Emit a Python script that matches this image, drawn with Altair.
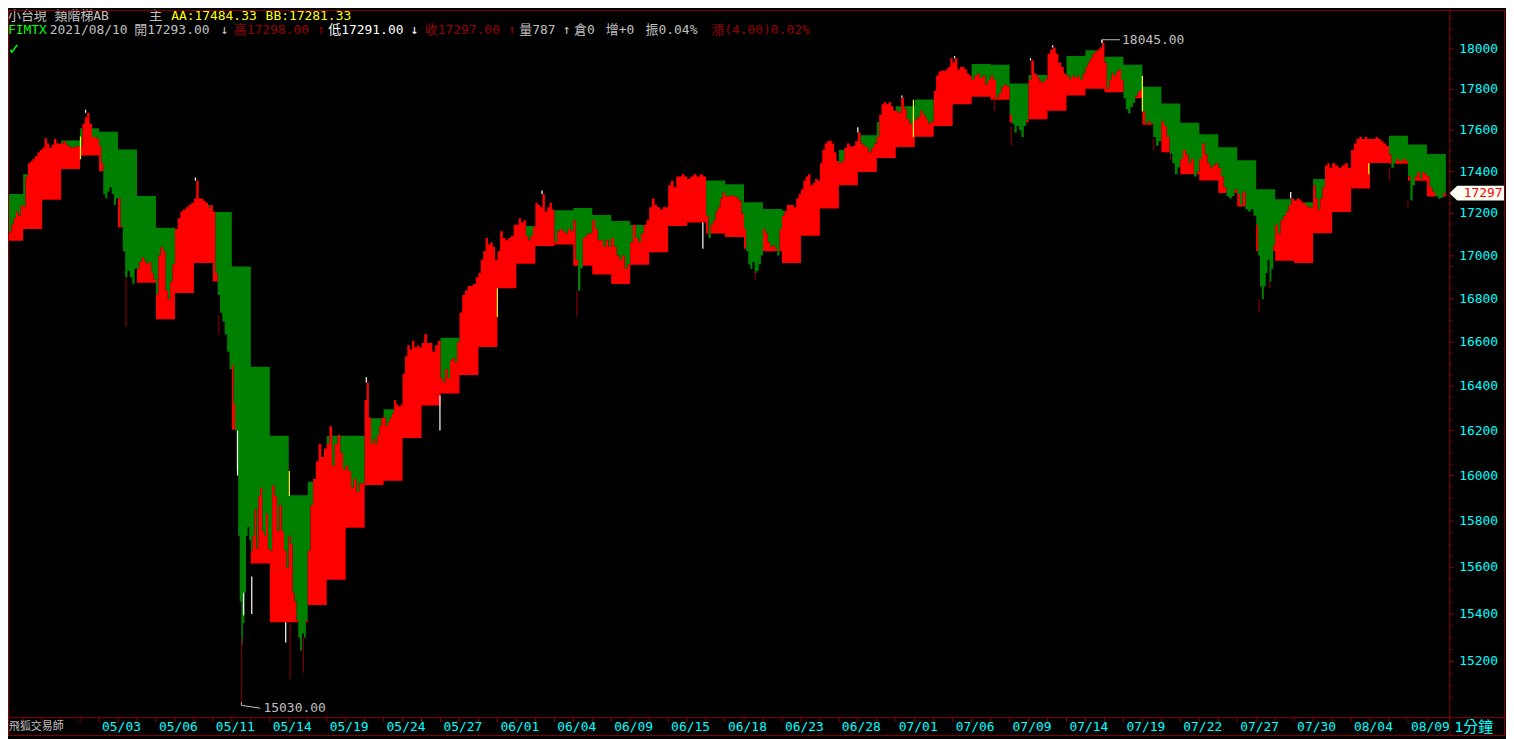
import altair as alt
import pandas as pd

# ---------------- data ----------------
DATE_LABELS = ["05/03", "05/06", "05/11", "05/14", "05/19", "05/24", "05/27", "06/01",
               "06/04", "06/09", "06/15", "06/18", "06/23", "06/28", "07/01", "07/06",
               "07/09", "07/14", "07/19", "07/22", "07/27", "07/30", "08/04", "08/09"]
LABEL_DAY = [5, 8, 11, 14, 17, 20, 23, 26, 29, 32, 35, 38, 41, 44, 47, 50, 53, 56, 59, 62,
             65, 68, 71, 74]
Y_TICKS = [15200, 15400, 15600, 15800, 16000, 16200, 16400, 16600, 16800, 17000, 17200,
           17400, 17600, 17800, 18000]

# upper step level (AA) and lower step level (BB) per trading day
AA = [17293, 17388, 17440, 17550, 17610, 17593, 17507, 17283, 17132, 17100,
      17241, 17207, 16950, 16488, 16177, 15913, 15973, 16177, 16177, 16255,
      16296, 16380, 16540, 16620, 16650, 16880, 17000, 17141, 17180, 17216,
      17226, 17193, 17164, 17145, 17180, 17300, 17340, 17358, 17339, 17254,
      17222, 17214, 17250, 17380, 17504, 17576, 17640, 17717, 17750, 17700,
      17850, 17925, 17921, 17828, 17870, 17870, 17964, 17993, 17960, 17921,
      17813, 17730, 17636, 17581, 17517, 17455, 17316, 17268, 17254, 17365,
      17380, 17450, 17500, 17573, 17531, 17484.33]
BB = [17071, 17127, 17266, 17413, 17478, 17402, 17134, 16874, 16705, 16827,
      16967, 16880, 16204, 15616, 15365, 15365, 15439, 15546, 15771, 15958,
      15977, 16167, 16312, 16367, 16450, 16578, 16849, 16963, 17046, 17054,
      16954, 16913, 16869, 16959, 17017, 17141, 17158, 17106, 17089, 17033,
      17022, 16967, 17095, 17224, 17335, 17398, 17465, 17519, 17568, 17621,
      17726, 17763, 17748, 17638, 17653, 17695, 17770, 17802, 17785, 17756,
      17627, 17493, 17388, 17358, 17298, 17233, 17023, 16977, 16967, 17107,
      17207, 17319, 17442, 17438, 17356, 17281.33]

# intraday price path, sampled per trading day
CLOSE = [
    [17147, 17095, 17110, 17147, 17178, 17209, 17189, 17241],
    [17231, 17376, 17440, 17450, 17461, 17475, 17493, 17504],
    [17515, 17561, 17536, 17515, 17530, 17557, 17536, 17536],
    [17536, 17546, 17530, 17521, 17515, 17518, 17521, 17521],
    [17521, 17631, 17663, 17685, 17631, 17567, 17567, 17557],
    [17525, 17440, 17293, 17272, 17304, 17325, 17293, 17241, 17272],
    [17272, 17137, 17022, 16900, 16930, 16900, 16870, 16940],
    [16940, 16971, 16992, 16975, 16961, 16971, 16920, 16890],
    [16820, 17002, 17043, 17022, 16840, 16798, 16880, 16961],
    [17127, 17178, 17209, 17219, 17230, 17241, 17251],
    [17272, 17356, 17272, 17272, 17260, 17251, 17230, 17241],
    [17209, 16920, 16817, 16735, 16695, 16635, 16556, 16477],
    [16496, 16319, 16200, 16025, 15737, 15454, 15270, 15362, 15491, 15737, 15775, 15718],
    [15672, 15737, 15852, 15681, 15909, 15946, 15756, 15737, 15833, 15681],
    [15672, 15956, 15909, 15756, 15871, 15756, 15672, 15597],
    [15737, 15700, 15491, 15454, 15374, 15300, 15245, 15319, 15300, 15374],
    [15672, 15871, 15985, 16062, 16140, 16082, 16120],
    [16140, 16219, 16043, 16140, 16180, 16101, 16025],
    [16043, 16020, 15947, 15985, 15928, 15966, 15966],
    [16337, 16416, 16259, 16141, 16161, 16141, 16180, 16220, 16259],
    [16259, 16220, 16240, 16259, 16278, 16337, 16317, 16308, 16317],
    [16456, 16536, 16586, 16566, 16606, 16576, 16586, 16576],
    [16596, 16636, 16596, 16596, 16556, 16586, 16606],
    [16436, 16416, 16476, 16436, 16516, 16526, 16506, 16600],
    [16737, 16818, 16839, 16859, 16859, 16869, 16900],
    [16920, 16982, 17022, 17084, 17053, 17064, 17043, 16982],
    [17022, 17116, 17084, 17074, 17084, 17095, 17147],
    [17147, 17178, 17158, 17168, 17095, 17074, 17095, 17137],
    [17251, 17241, 17230, 17293, 17209, 17230, 17251, 17219],
    [17064, 17116, 17127, 17116, 17106, 17127, 17116],
    [17168, 16982, 16839, 16942, 17084, 17095, 17106, 17106],
    [17168, 17127, 17074, 17074, 17043, 17074, 17043],
    [17084, 17043, 17002, 16982, 17002, 16940, 16961],
    [17064, 17147, 17084, 17064, 17106, 17147, 17168],
    [17230, 17272, 17241, 17230, 17219, 17230, 17230],
    [17335, 17356, 17325, 17377, 17377, 17388, 17377],
    [17366, 17377, 17388, 17377, 17388, 17377],
    [17189, 17084, 17147, 17168, 17209, 17230, 17272, 17300],
    [17282, 17282, 17285, 17282, 17276, 17262, 17200],
    [17127, 17022, 16961, 16940, 16971, 16920, 16930, 16961, 17002],
    [17127, 17106, 17064, 17043, 17050, 17033, 17002, 17127],
    [17189, 17209, 17241, 17241, 17241, 17230, 17272, 17293],
    [17314, 17356, 17377, 17388, 17335, 17345, 17366, 17356],
    [17440, 17504, 17536, 17546, 17550, 17536, 17493, 17451],
    [17440, 17451, 17515, 17536, 17521, 17525, 17546],
    [17589, 17536, 17525, 17515, 17493, 17515, 17536],
    [17567, 17674, 17727, 17738, 17727, 17738, 17717, 17695],
    [17695, 17685, 17759, 17706, 17653, 17631, 17642],
    [17653, 17663, 17695, 17674, 17653, 17631, 17642],
    [17791, 17867, 17888, 17893, 17890, 17899, 17910, 17953],
    [17932, 17953, 17899, 17910, 17910, 17899, 17878, 17867],
    [17845, 17867, 17878, 17856, 17867, 17824, 17845],
    [17867, 17845, 17759, 17780, 17813, 17824, 17813],
    [17674, 17631, 17589, 17621, 17600, 17567, 17621, 17650],
    [17845, 17942, 17878, 17860, 17840, 17835, 17850],
    [17975, 17997, 18007, 17975, 17932, 17910, 17878],
    [17867, 17850, 17867, 17856, 17867, 17845, 17878],
    [17910, 17932, 17953, 17975, 17986, 17997, 18007, 18030],
    [17932, 17802, 17845, 17878, 17867, 17888, 17899, 17845],
    [17756, 17702, 17681, 17713, 17734, 17766, 17788, 17798],
    [17691, 17631, 17642, 17631, 17567, 17525, 17546],
    [17642, 17621, 17567, 17486, 17440, 17388, 17420],
    [17461, 17504, 17482, 17440, 17461, 17377, 17400],
    [17461, 17536, 17482, 17440, 17419, 17430, 17440],
    [17419, 17377, 17325, 17282, 17272, 17282, 17314],
    [17293, 17241, 17304, 17219, 17209, 17219, 17189],
    [17147, 17002, 16858, 16798, 16858, 16920, 16982, 16879, 16940, 17050],
    [17147, 17106, 17168, 17189, 17209, 17241, 17272],
    [17262, 17272, 17262, 17251, 17241, 17230, 17230],
    [17335, 17272, 17219, 17272, 17325, 17430, 17440, 17419],
    [17440, 17430, 17419, 17430, 17440, 17419],
    [17504, 17536, 17557, 17567, 17557, 17567, 17557],
    [17557, 17557, 17567, 17557, 17546, 17536, 17525],
    [17482, 17419, 17440, 17461, 17451, 17451, 17461, 17451],
    [17377, 17262, 17335, 17377, 17398, 17366, 17398, 17388],
    [17377, 17325, 17304, 17282, 17272, 17275, 17297],
]

# low wicks (dark red)
LOW_X = [6.42, 11.31, 12.52, 15.07, 15.77, 30.19, 39.59, 52.2, 53.09, 60.6, 61.48, 66.15, 66.72, 73.02, 74.0]
LOW_LO = [16670, 16635, 15030, 15124, 15153, 16716, 16889, 17695, 17527, 17500, 17455, 16737, 16850, 17356, 17230]
LOW_HI = [16900, 16720, 15300, 15360, 15300, 16840, 16930, 17760, 17620, 17560, 17490, 16800, 16880, 17420, 17262]
# white tick segments
WH_X = [4.29, 10.08, 19.09, 28.35, 45.0, 47.32, 50.1, 54.1, 55.27, 57.86, 67.82, 12.3, 12.62, 13.05, 14.84, 22.97, 36.83]
WH_LO = [17685, 17356, 16416, 17293, 17589, 17759, 17953, 17942, 18007, 18030, 17272, 16000, 15395, 15400, 15280, 16200, 17033]
WH_HI = [17700, 17372, 16440, 17310, 17615, 17770, 17964, 17953, 18017, 18045, 17303, 16200, 15491, 15560, 15365, 16357, 17158]
# yellow markers
YE_X = [4.02, 15.03, 26.0, 47.93, 60.0, 71.93]
YE_LO = [17460, 15910, 16716, 17567, 17691, 17388]
YE_HI = [17570, 16020, 16849, 17748, 17867, 17440]

HIGH_VAL, HIGH_DAY = 18045, 57.88
LOW_VAL, LOW_DAY = 15030, 12.5
LAST_PRICE = 17297
N_DAYS = 76

HEADER = [
    (2, 0, "小台現 類階梯AB", "#C0C0C0"),
    (150, 0, "主", "#C0C0C0"),
    (172, 0, "AA:17484.33", "#FFFF00"),
    (267, 0, "BB:17281.33", "#FFFF00"),
    (2, 1, "FIMTX", "#00FF00"),
    (50, 1, "2021/08/10", "#C0C0C0"),
    (135, 1, "開17293.00", "#C0C0C0"),
    (222, 1, "↓", "#C0C0C0"),
    (235, 1, "高17298.00", "#990000"),
    (319, 1, "↑", "#990000"),
    (330, 1, "低17291.00", "#FFFFFF"),
    (413, 1, "↓", "#FFFFFF"),
    (427, 1, "收17297.00", "#990000"),
    (511, 1, "↑", "#990000"),
    (522, 1, "量787", "#C0C0C0"),
    (566, 1, "↑", "#C0C0C0"),
    (577, 1, "倉0", "#C0C0C0"),
    (609, 1, "增+0", "#C0C0C0"),
    (649, 1, "振0.04%", "#C0C0C0"),
    (715, 1, "漲(4.00)0.02%", "#990000"),
]

# ---------------- layout ----------------
W, H = 1449, 711
PR, PB = 57, 20
FONT = "DejaVu Sans Mono, Noto Sans CJK TC"
BORDER = "#8B0000"
CYAN = "#00FFFF"

rows = []
for k, day in enumerate(CLOSE):
    n = len(day)
    for j, p in enumerate(day):
        rows.append({"t": k + j / n, "p": p, "aa": AA[k], "bb": BB[k]})
rows.append({"t": float(len(CLOSE)), "p": CLOSE[-1][-1], "aa": AA[-1], "bb": BB[-1]})
df = pd.DataFrame(rows)
df["top"] = df[["p", "aa"]].max(axis=1)
df["bot"] = df[["p", "bb"]].min(axis=1)

segs = pd.DataFrame({
    "x": LOW_X + WH_X + YE_X,
    "lo": LOW_LO + WH_LO + YE_LO,
    "hi": LOW_HI + WH_HI + YE_HI,
    "c": ["#800000"] * len(LOW_X) + ["#FFFFFF"] * len(WH_X) + ["#FFFF00"] * len(YE_X),
})

xs = alt.Scale(domain=[0.2, 76.18], nice=False, zero=False)
ys = alt.Scale(type="log", domain=[14968, 18194], nice=False)

X = lambda f: alt.X(f, scale=xs, axis=None)
Y = lambda f: alt.Y(f, scale=ys, axis=None)

green = alt.Chart(df).mark_area(interpolate="step-after", color="#008000", clip=True).encode(
    x=X("t:Q"), y=Y("p:Q"), y2="top:Q")
red = alt.Chart(df).mark_area(interpolate="step-after", color="#FF0000", clip=True).encode(
    x=X("t:Q"), y=Y("bot:Q"), y2="p:Q")
wicks = alt.Chart(segs).mark_rule(strokeWidth=1.2, clip=True).encode(
    x=X("x:Q"), y=Y("lo:Q"), y2="hi:Q", color=alt.Color("c:N", scale=None))

# ---- price axis (right) ----
ytick_df = pd.DataFrame({"v": Y_TICKS, "s": [str(v) for v in Y_TICKS]})
y_major = alt.Chart(ytick_df).mark_rule(color=BORDER).encode(
    x=alt.value(W), x2=alt.value(W + 5), y=Y("v:Q"))
y_labels = alt.Chart(ytick_df).mark_text(align="left", baseline="middle", color=CYAN,
                                          font=FONT, fontSize=13).encode(
    x=alt.value(W + 10), y=Y("v:Q"), text="s:N")
minor = pd.DataFrame({"v": [v for v in range(15000, 18200, 50) if v % 200 != 0]})
y_minor = alt.Chart(minor).mark_rule(color=BORDER).encode(
    x=alt.value(W), x2=alt.value(W + 3), y=Y("v:Q"))

# ---- date axis (bottom) ----
xlab_df = pd.DataFrame({"d": LABEL_DAY, "s": DATE_LABELS})
x_labels = alt.Chart(xlab_df).mark_text(align="left", baseline="middle", color=CYAN,
                                         font=FONT, fontSize=13, dx=3).encode(
    x=X("d:Q"), y=alt.value(H + 10), text="s:N")
xtick_df = pd.DataFrame({"d": list(range(1, N_DAYS))})
x_ticks = alt.Chart(xtick_df).mark_rule(color=BORDER).encode(
    x=X("d:Q"), y=alt.value(H), y2=alt.value(H + 5))

# high / low annotations
hi_line = pd.DataFrame({"x": [HIGH_DAY, HIGH_DAY, HIGH_DAY + 0.94],
                        "y": [HIGH_VAL - 15, HIGH_VAL, HIGH_VAL], "o": [0, 1, 2]})
lo_line = pd.DataFrame({"x": [LOW_DAY, LOW_DAY, LOW_DAY + 1.0],
                        "y": [LOW_VAL, LOW_VAL - 13, LOW_VAL - 25], "o": [0, 1, 2]})
ann_hi = alt.Chart(hi_line).mark_line(color="#C0C0C0", strokeWidth=1).encode(
    x=X("x:Q"), y=Y("y:Q"), order="o:Q")
ann_lo = alt.Chart(lo_line).mark_line(color="#C0C0C0", strokeWidth=1).encode(
    x=X("x:Q"), y=Y("y:Q"), order="o:Q")
ann_text = alt.Chart(pd.DataFrame({
    "x": [HIGH_DAY + 1.05, LOW_DAY + 1.17],
    "y": [HIGH_VAL, LOW_VAL - 25],
    "s": ["%.2f" % HIGH_VAL, "%.2f" % LOW_VAL],
})).mark_text(align="left", baseline="middle", color="#C0C0C0", font=FONT, fontSize=13).encode(
    x=X("x:Q"), y=Y("y:Q"), text="s:N")

# last price tag on the axis
tag_df = pd.DataFrame({"v": [LAST_PRICE], "s": [str(LAST_PRICE)]})
tag = alt.Chart(tag_df).mark_point(
    shape="M-1,0L-0.71,-0.27L1,-0.27L1,0.27L-0.71,0.27Z", filled=True, size=3025,
    color="#FFFFF4", opacity=1).encode(x=alt.value(W + 27.5), y=Y("v:Q"))
tag_text = alt.Chart(tag_df).mark_text(color="#FF0000", font=FONT, fontSize=13,
                                        align="center", baseline="middle").encode(
    x=alt.value(W + 34), y=Y("v:Q"), text="s:N")

# header texts
hdf = pd.DataFrame(HEADER, columns=["x", "row", "s", "c"])
hdf["px"] = (hdf["x"] - 8).clip(lower=0)
hdf["py"] = hdf["row"].map({0: 6.5, 1: 20})
header = alt.Chart(hdf).mark_text(align="left", baseline="middle", font=FONT, fontSize=13).encode(
    x=alt.X("px:Q", scale=None, axis=None), y=alt.Y("py:Q", scale=None, axis=None),
    text="s:N", color=alt.Color("c:N", scale=None))

one = pd.DataFrame({"a": [0]})


def txt(s, x, y, color, size=13, font=FONT):
    return alt.Chart(one).mark_text(text=s, color=color, font=font, fontSize=size,
                                    align="left", baseline="middle").encode(
        x=alt.value(x), y=alt.value(y))


def rule(x1, y1, x2, y2):
    return alt.Chart(one).mark_rule(color=BORDER, strokeWidth=1).encode(
        x=alt.value(x1), y=alt.value(y1), x2=alt.value(x2), y2=alt.value(y2))


TOT_W, TOT_H = W + PR, H + PB
deco = [
    rule(0, 0.5, TOT_W, 0.5),
    rule(0.5, 0, 0.5, TOT_H - 1.5),
    rule(TOT_W - 1.5, 0, TOT_W - 1.5, TOT_H - 1.5),
    rule(0, H + 0.5, TOT_W, H + 0.5),
    rule(0, TOT_H - 1.5, TOT_W, TOT_H - 1.5),
    rule(W + 0.5, 0, W + 0.5, TOT_H - 1.5),
    txt("飛狐交易師", 1, H + 10, "#C0C0C0", 11),
    txt("1分鐘", W + 5, H + 10, CYAN, 15),
    txt("✓", 0, 39, "#00FF00", 15, "DejaVu Sans"),
]

chart = alt.layer(
    green, red, wicks, y_minor, y_major, y_labels, x_ticks, x_labels,
    ann_hi, ann_lo, ann_text, tag, tag_text, header, *deco
).properties(
    width=W, height=H, background="#000000",
    padding={"left": 0, "top": 0, "right": PR, "bottom": PB},
    autosize=alt.AutoSizeParams(type="none"),
).configure_view(stroke=None)

chart.save("out.html", embed_options={"renderer": "svg", "actions": False})
